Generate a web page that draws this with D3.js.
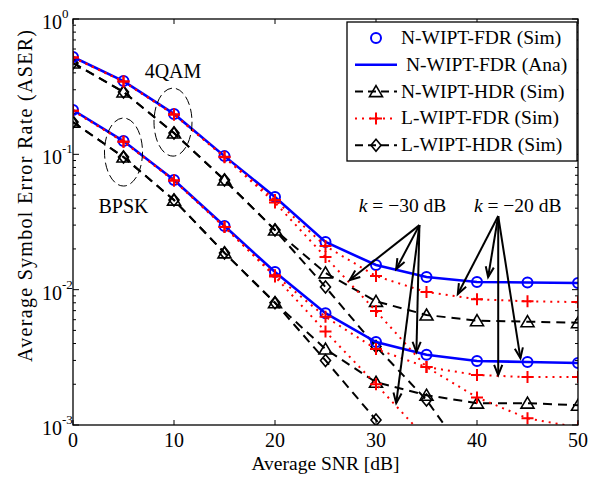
<!DOCTYPE html>
<html>
<head>
<meta charset="utf-8">
<script src="https://cdn.jsdelivr.net/npm/d3@7"></script>
<style>
  body { margin: 0; background: #fff; }
  text { font-family: "Liberation Serif", "Times New Roman", serif; fill: #000; }
</style>
</head>
<body>
<div id="chart"></div>
<script>
// SNR points (dB)
var snr = [0, 5, 10, 15, 20, 25, 30, 35, 40, 45, 50];

// 4QAM curves
var qamNFdr = [0.524, 0.348, 0.199, 0.097, 0.0484, 0.0225, 0.0152, 0.0124, 0.0114, 0.0113, 0.0112];
var qamLFdr20 = [0.52, 0.345, 0.197, 0.096, 0.046, 0.021, 0.0126, 0.0096, 0.0085, 0.0082, 0.0081];
var qamLFdr30 = [0.52, 0.345, 0.197, 0.095, 0.044, 0.0174, 0.00695, 0.00268, 0.0016, 0.00112, 0.00096];
var qamNHdr = [0.473, 0.289, 0.1437, 0.0646, 0.0276, 0.0133, 0.0082, 0.0065, 0.0059, 0.0058, 0.0057];
var qamLHdr = [0.473, 0.289, 0.1437, 0.0646, 0.0276, 0.01045, 0.0038, 0.00153, 0.00046];

// BPSK curves
var bpskNFdr = [0.2126, 0.1254, 0.0646, 0.0295, 0.0135, 0.0067, 0.0041, 0.0033, 0.00297, 0.00292, 0.00287];
var bpskLFdr20 = [0.21, 0.124, 0.064, 0.029, 0.0128, 0.0063, 0.00364, 0.00268, 0.00234, 0.00226, 0.00226];
var bpskLFdr30 = [0.21, 0.124, 0.064, 0.029, 0.0125, 0.0049, 0.0020, 0.00079];
var bpskNHdr = [0.173, 0.0955, 0.0459, 0.0187, 0.0080, 0.00364, 0.00207, 0.00166, 0.00145, 0.00145, 0.0014];
var bpskLHdr = [0.173, 0.0955, 0.0459, 0.0187, 0.0080, 0.0030, 0.00109, 0.0004];

var xTicks = [0, 10, 20, 30, 40, 50];
var yTicks = [1e-3, 1e-2, 1e-1, 1];
var yTickExp = ["-3", "-2", "-1", "0"];

var legendLabels = ["N-WIPT-FDR (Sim)", "N-WIPT-FDR (Ana)", "N-WIPT-HDR (Sim)", "L-WIPT-FDR (Sim)", "L-WIPT-HDR (Sim)"];

// annotation anchors in data units [snr, aser]
var apex30 = [34.3, 0.030], apex20 = [42.1, 0.035];
var tips30 = [[27.4, 0.01178], [32.0, 0.0142], [34.0, 0.00346], [32.0, 0.00145]];
var tips20 = [[38.1, 0.00928], [41.1, 0.0124], [42.1, 0.00234], [44.3, 0.00312]];

var margin = {top: 19, right: 19, bottom: 52, left: 73},
    W = 597, H = 477,
    width = W - margin.left - margin.right,
    height = H - margin.top - margin.bottom;

var svg = d3.select("#chart").append("svg")
    .attr("width", W).attr("height", H);

var x = d3.scaleLinear().domain([0, 50]).range([margin.left, margin.left + width]);
var y = d3.scaleLog().domain([1e-3, 1]).range([margin.top + height, margin.top]);

svg.append("defs").append("clipPath").attr("id", "clip")
  .append("rect").attr("x", margin.left).attr("y", margin.top)
  .attr("width", width).attr("height", height);

// ticks (inward, all four sides)
var axes = svg.append("g").attr("stroke", "#000").attr("stroke-width", 1);
xTicks.forEach(function(t) {
  axes.append("line").attr("x1", x(t)).attr("x2", x(t)).attr("y1", y(1e-3)).attr("y2", y(1e-3) - 5);
  axes.append("line").attr("x1", x(t)).attr("x2", x(t)).attr("y1", y(1)).attr("y2", y(1) + 5);
});
var minor = [];
for (var e = -3; e < 0; e++) for (var m = 2; m <= 9; m++) minor.push(m * Math.pow(10, e));
minor.forEach(function(v) {
  axes.append("line").attr("x1", x(0)).attr("x2", x(0) + 3).attr("y1", y(v)).attr("y2", y(v));
  axes.append("line").attr("x1", x(50)).attr("x2", x(50) - 3).attr("y1", y(v)).attr("y2", y(v));
});
yTicks.forEach(function(v) {
  axes.append("line").attr("x1", x(0)).attr("x2", x(0) + 6).attr("y1", y(v)).attr("y2", y(v));
  axes.append("line").attr("x1", x(50)).attr("x2", x(50) - 6).attr("y1", y(v)).attr("y2", y(v));
});

// tick labels
xTicks.forEach(function(t) {
  svg.append("text").attr("x", x(t)).attr("y", y(1e-3) + 22)
    .attr("text-anchor", "middle").attr("font-size", 20).text(t);
});
yTicks.forEach(function(v, i) {
  svg.append("text").attr("x", 62).attr("y", y(v) + 10)
    .attr("text-anchor", "end").attr("font-size", 20).text("10");
  svg.append("text").attr("x", 62).attr("y", y(v) - 1)
    .attr("font-size", 13).text(yTickExp[i]);
});

// axis labels
svg.append("text").attr("x", x(25)).attr("y", 470)
  .attr("text-anchor", "middle").attr("font-size", 19.5).text("Average SNR [dB]");
svg.append("text").attr("transform", "translate(32,196) rotate(-90)")
  .attr("text-anchor", "middle").attr("font-size", 20)
  .attr("textLength", 332).attr("lengthAdjust", "spacing")
  .text("Average Symbol Error Rate  (ASER)");

var plot = svg.append("g").attr("clip-path", "url(#clip)");
var line = d3.line().x(function(d, i) { return x(snr[i]); }).y(function(d) { return y(d); });

var dashed = "9,6", dotted = "2,5";

function drawLine(data, color, dash, w) {
  plot.append("path").datum(data).attr("d", line).attr("fill", "none")
    .attr("stroke", color).attr("stroke-width", w).attr("stroke-dasharray", dash);
}
function tri(g, cx, cy) {
  g.append("path").attr("d", "M" + cx + "," + (cy - 6) + "L" + (cx + 6.5) + "," + (cy + 5) + "L" + (cx - 6.5) + "," + (cy + 5) + "Z")
    .attr("fill", "none").attr("stroke", "#000").attr("stroke-width", 1.6);
}
function dia(g, cx, cy) {
  g.append("path").attr("d", "M" + cx + "," + (cy - 6) + "L" + (cx + 5) + "," + cy + "L" + cx + "," + (cy + 6) + "L" + (cx - 5) + "," + cy + "Z")
    .attr("fill", "none").attr("stroke", "#000").attr("stroke-width", 1.6);
}
function plus(g, cx, cy) {
  g.append("path").attr("d", "M" + (cx - 6) + "," + cy + "H" + (cx + 6) + "M" + cx + "," + (cy - 6) + "V" + (cy + 6))
    .attr("stroke", "red").attr("stroke-width", 2).attr("fill", "none");
}
function circ(g, cx, cy) {
  g.append("circle").attr("cx", cx).attr("cy", cy).attr("r", 5)
    .attr("fill", "none").attr("stroke", "blue").attr("stroke-width", 2);
}
function marks(data, fn) {
  data.forEach(function(d, i) { fn(plot, x(snr[i]), y(d)); });
}

// HDR curves (black dashed)
[qamLHdr, bpskLHdr].forEach(function(d) { drawLine(d, "#000", dashed, 2); marks(d, dia); });
[qamNHdr, bpskNHdr].forEach(function(d) { drawLine(d, "#000", dashed, 2); marks(d, tri); });
// N-WIPT-FDR (blue)
[qamNFdr, bpskNFdr].forEach(function(d) { drawLine(d, "blue", null, 2.6); marks(d, circ); });
// L-WIPT-FDR (red dotted)
[qamLFdr20, qamLFdr30, bpskLFdr20, bpskLFdr30].forEach(function(d) { drawLine(d, "red", dotted, 2); marks(d, plus); });

// ellipses and modulation labels
var ell = svg.append("g").attr("fill", "none").attr("stroke", "#000").attr("stroke-width", 1).attr("stroke-dasharray", "9,4");
ell.append("ellipse").attr("cx", x(9.9)).attr("cy", y(0.173)).attr("rx", 19).attr("ry", 34);
ell.append("ellipse").attr("cx", x(5.0)).attr("cy", y(0.104)).attr("rx", 19).attr("ry", 34);
svg.append("text").attr("x", x(9.9)).attr("y", y(0.366)).attr("text-anchor", "middle").attr("font-size", 20).text("4QAM");
svg.append("text").attr("x", x(5.0)).attr("y", y(0.0368)).attr("text-anchor", "middle").attr("font-size", 20).text("BPSK");

// k annotations with arrows
function kLabel(xv, val) {
  var t = svg.append("text").attr("x", x(xv)).attr("y", y(0.0375)).attr("font-size", 19.5);
  t.append("tspan").attr("font-style", "italic").text("k");
  t.append("tspan").text(" = \u2212" + val + " dB");
}
kLabel(28.3, 30);
kLabel(39.7, 20);

function arrow(from, to) {
  var x1 = x(from[0]), y1 = y(from[1]), x2 = x(to[0]), y2 = y(to[1]);
  var a = Math.atan2(y2 - y1, x2 - x1), L = 11, s = 0.38;
  var g = svg.append("g").attr("stroke", "#000").attr("stroke-width", 2).attr("fill", "none");
  g.append("line").attr("x1", x1).attr("y1", y1).attr("x2", x2).attr("y2", y2);
  g.append("path").attr("d",
    "M" + (x2 - L * Math.cos(a - s)) + "," + (y2 - L * Math.sin(a - s)) +
    "L" + x2 + "," + y2 +
    "L" + (x2 - L * Math.cos(a + s)) + "," + (y2 - L * Math.sin(a + s)));
}
tips30.forEach(function(t) { arrow(apex30, t); });
tips20.forEach(function(t) { arrow(apex20, t); });

// frame
svg.append("rect").attr("x", margin.left).attr("y", margin.top)
  .attr("width", width).attr("height", height)
  .attr("fill", "none").attr("stroke", "#000").attr("stroke-width", 1.3);

// legend
var lg = svg.append("g");
lg.append("rect").attr("x", 347).attr("y", 22).attr("width", 230).attr("height", 139)
  .attr("fill", "#fff").attr("stroke", "#000").attr("stroke-width", 1.3);
legendLabels.forEach(function(lbl, i) {
  var cy = 38 + i * 26.8, x0 = 355, x1 = 397, cx = 376;
  if (i === 1) lg.append("line").attr("x1", x0).attr("x2", x1).attr("y1", cy).attr("y2", cy).attr("stroke", "blue").attr("stroke-width", 2.6);
  if (i === 2 || i === 4) lg.append("line").attr("x1", x0).attr("x2", x1).attr("y1", cy).attr("y2", cy).attr("stroke", "#000").attr("stroke-width", 2).attr("stroke-dasharray", "8,5");
  if (i === 3) lg.append("line").attr("x1", x0).attr("x2", x1).attr("y1", cy).attr("y2", cy).attr("stroke", "red").attr("stroke-width", 2).attr("stroke-dasharray", dotted);
  if (i === 0) circ(lg, cx, cy);
  if (i === 2) tri(lg, cx, cy);
  if (i === 3) plus(lg, cx, cy);
  if (i === 4) dia(lg, cx, cy);
  lg.append("text").attr("x", i === 1 ? 406 : 401).attr("y", cy + 6).attr("font-size", 19.5).text(lbl);
});
</script>
</body>
</html>
